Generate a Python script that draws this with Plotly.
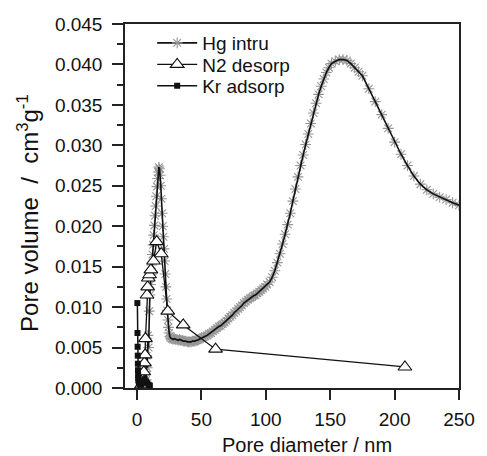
import plotly.graph_objects as go

# ---- data ----
hg_x = [3, 3.5, 4, 4.5, 5, 5.5, 6, 6.5, 7, 7.5, 8, 8.5, 9, 9.5, 10, 10.5, 11, 11.5, 12, 12.5,
        13, 13.5, 14, 14.5, 15, 15.5, 16, 16.5, 17,
        17.5, 18, 18.5, 19, 19.5, 20, 20.5, 21, 21.5, 22, 22.5, 23, 23.5, 24, 24.5, 25, 25.5,
        26, 27, 28, 29, 30, 31, 32, 33, 34, 35, 36, 37, 38, 39, 40, 41, 42, 43, 44, 45,
        46, 47, 48, 49, 50,
        51.5, 53, 54.5, 56, 57.5, 59, 60.5, 62, 63.5, 65, 66.5, 68, 69.5, 71, 72.5, 74, 75.5,
        77, 78.5, 80, 81.5, 83, 84.5, 86, 87.5, 89, 90.5, 92, 93.5, 95, 96.5, 98, 99.5, 101,
        103, 105, 107, 109, 111, 113, 115, 117, 119, 121, 123, 125, 127, 129, 131, 133, 135,
        137, 139, 141, 143, 145, 147, 149, 151,
        154, 157, 160, 163, 166, 169, 172, 175, 180, 185, 190, 195, 200, 205, 210, 215, 220,
        225, 230, 235, 240, 245, 250]
hg_y = [0.0002, 0.0005, 0.0003, 0.0008, 0.0004, 0.0012, 0.0006, 0.0020, 0.0010, 0.0040,
        0.0025, 0.0065, 0.0050, 0.0095, 0.0115, 0.0128, 0.0140, 0.0152, 0.0165, 0.0177,
        0.0189, 0.0201, 0.0213, 0.0225, 0.0237, 0.0249, 0.0259, 0.0267, 0.0273,
        0.0271, 0.0263, 0.0250, 0.0234, 0.0216, 0.0200, 0.0187, 0.0172, 0.0157, 0.0141,
        0.0125, 0.0110, 0.0096, 0.0084, 0.0075, 0.0068, 0.0064,
        0.0062, 0.0061, 0.0060, 0.0061, 0.0060, 0.0060, 0.0059, 0.0060, 0.0059, 0.0059,
        0.0058, 0.0058, 0.0058, 0.0057, 0.0057, 0.0057, 0.0057, 0.0058, 0.0058, 0.0058,
        0.0059, 0.0059, 0.0060, 0.0061, 0.0062,
        0.0063, 0.0064, 0.0065, 0.0067, 0.0068, 0.0070, 0.0072, 0.0074, 0.0076, 0.0077,
        0.0079, 0.0081, 0.0083, 0.0086, 0.0088, 0.0090, 0.0093, 0.0095, 0.0098, 0.0100,
        0.0102, 0.0105, 0.0107, 0.0109, 0.0111, 0.0112, 0.0114, 0.0115, 0.0117, 0.0119,
        0.0121, 0.0123, 0.0125, 0.0128,
        0.0131, 0.0137, 0.0145, 0.0155, 0.0166, 0.0178, 0.0190, 0.0202, 0.0216, 0.0231,
        0.0246, 0.0261, 0.0275, 0.0288, 0.0301, 0.0314, 0.0327, 0.0340, 0.0352, 0.0363,
        0.0373, 0.0382, 0.0390, 0.0396, 0.0401,
        0.0404, 0.0406, 0.0406, 0.0405, 0.0401, 0.0396, 0.0391, 0.0386, 0.0370, 0.0354,
        0.0338, 0.0321, 0.0304, 0.0289, 0.0275, 0.0262, 0.0252, 0.0245, 0.0240, 0.0236,
        0.0233, 0.0229, 0.0226]

n2_x = [3.5, 4.5, 5.3, 5.8, 6.3, 6.6, 7.8, 8.3, 8.8, 9.8, 10.8, 12.8, 15.3, 18.8, 23.9, 35.9, 61, 208]
n2_y = [0.0004, 0.0010, 0.0020, 0.0031, 0.0041, 0.0061, 0.0115, 0.0125, 0.0136, 0.0140,
        0.0146, 0.0157, 0.0181, 0.0166, 0.0095, 0.0078, 0.0048, 0.0026]

kr_x = [0.3, 0.4, 0.5, 0.6, 0.7, 0.8, 0.9, 1.0, 1.2, 1.4, 1.6, 1.8, 2.0, 2.5, 3, 3.5, 4, 5, 6, 7, 8, 9, 10]
kr_y = [0.0105, 0.0068, 0.0051, 0.0040, 0.0030, 0.0022, 0.0016, 0.0012, 0.0010, 0.0008,
        0.0007, 0.0006, 0.0005, 0.0006, 0.0004, 0.0005, 0.0007, 0.0009, 0.0011, 0.0008,
        0.0006, 0.0004, 0.0003]

x_ticks = [0, 50, 100, 150, 200, 250]
y_ticks = [0.000, 0.005, 0.010, 0.015, 0.020, 0.025, 0.030, 0.035, 0.040, 0.045]

FONT = "Liberation Sans, Arial, sans-serif"
TXT = "#111111"
HG_MARK = dict(symbol="asterisk-open", size=9, color="#959595",
               line=dict(color="#959595", width=1.1))

fig = go.Figure()
# Hg: gray asterisk markers under a black line
fig.add_trace(go.Scatter(x=hg_x, y=hg_y, mode="markers", marker=HG_MARK, showlegend=False))
fig.add_trace(go.Scatter(x=hg_x, y=hg_y, mode="lines", line=dict(color="#111111", width=1.6),
                         showlegend=False))
fig.add_trace(go.Scatter(
    x=n2_x, y=n2_y, mode="lines+markers", name="N2 desorp", legend="legend2",
    line=dict(color="#111111", width=1.3),
    marker=dict(symbol="triangle-up", size=12, color="white", line=dict(color="#111111", width=1.1)),
))
fig.add_trace(go.Scatter(
    x=kr_x, y=kr_y, mode="lines+markers", name="Kr adsorp", legend="legend3",
    line=dict(color="#111111", width=1.5),
    marker=dict(symbol="square", size=6, color="#111111"),
))
# legend entry for Hg
fig.add_trace(go.Scatter(x=[None], y=[None], mode="lines+markers", name="Hg intru", legend="legend",
                         line=dict(color="#111111", width=1.6), marker=HG_MARK))

def leg(ypix):
    return dict(x=(153 - 125) / 344, y=1 - (ypix - 24) / 364, xanchor="left", yanchor="middle",
                bgcolor="rgba(0,0,0,0)", font=dict(size=19, family=FONT, color=TXT),
                itemwidth=40)

fig.update_layout(
    width=487, height=456,
    margin=dict(l=125, r=18, t=24, b=68),
    paper_bgcolor="white", plot_bgcolor="white",
    font=dict(family=FONT, color=TXT, size=19),
    showlegend=True,
    legend=leg(43), legend2=leg(64.5), legend3=leg(86),
    xaxis=dict(range=[-9.3, 250], tickvals=x_ticks, ticktext=[str(v) for v in x_ticks],
               showline=True, mirror=True, linecolor="#222222", linewidth=1.5,
               ticks="outside", ticklen=10, tickwidth=1.5, tickcolor="#222222",
               showgrid=False, zeroline=False, tickfont=dict(size=19), ticklabelstandoff=3,
               ),
    yaxis=dict(range=[0, 0.045], tickvals=y_ticks, ticktext=["%.3f" % v for v in y_ticks],
               showline=True, mirror=True, linecolor="#222222", linewidth=1.5,
               ticks="outside", ticklen=11, tickwidth=1.5, tickcolor="#222222",
               showgrid=False, zeroline=False, tickfont=dict(size=19), ticklabelstandoff=6,
               minor=dict(dtick=0.0025, tick0=0, ticks="outside", ticklen=6, tickwidth=1.5,
                          tickcolor="#222222", showgrid=False),
               ),
    annotations=[
        dict(text="Pore diameter / nm", xref="paper", yref="paper",
             x=(312 - 125) / 344, y=-(445 - 388) / 364, xanchor="center", yanchor="middle",
             showarrow=False, font=dict(size=20, family=FONT, color=TXT)),
        dict(text="Pore volume  /  cm<sup>3</sup>g<sup>-1</sup>", xref="paper", yref="paper",
             x=-(125 - 25) / 344, y=1 - (213 - 24) / 364, xanchor="center", yanchor="middle",
             textangle=-90, showarrow=False, font=dict(size=24, family=FONT, color=TXT)),
    ],
)

fig.write_html("out.html")
